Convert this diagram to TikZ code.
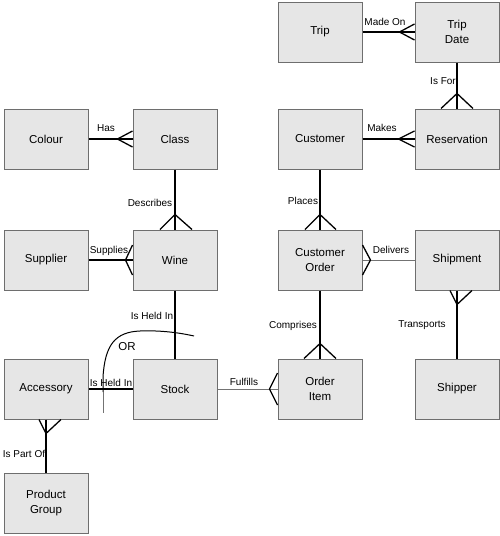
\documentclass[tikz,border=0pt]{standalone}
\usepackage{fontspec}
\setmainfont{Liberation Sans}
\usetikzlibrary{calc}
\definecolor{boxfill}{HTML}{E6E6E6}
\definecolor{boxline}{HTML}{6E6E6E}

\begin{document}
\begin{tikzpicture}[x=1pt,y=-1pt,
  entity/.style={draw=boxline,line width=1pt,fill=boxfill,minimum width=84pt,minimum height=60pt,inner sep=0pt,align=center,font=\fontsize{11.5}{14.5}\selectfont},
  rel/.style={line width=1.3pt},
  weak/.style={line width=0.7pt,black!55},
  lbl/.style={inner sep=0pt,font=\fontsize{10}{12}\selectfont}]
\useasboundingbox (0,0) rectangle (500,536);
% entities
\node[entity] (trip) at (320,32) {Trip};
\node[entity] (tripdate) at (457,32) {Trip\\Date};
\node[entity] (colour) at (46,139) {Colour};
\node[entity] (class) at (175,139) {Class};
\node[entity] (customer) at (320,139) {Customer};
\node[entity] (reservation) at (457,139) {Reservation};
\node[entity] (supplier) at (46,260) {Supplier};
\node[entity] (wine) at (175,260) {Wine};
\node[entity] (custorder) at (320,260) {Customer\\Order};
\node[entity] (shipment) at (457,260) {Shipment};
\node[entity] (accessory) at (46,389) {Accessory};
\node[entity] (stock) at (175,389) {Stock};
\node[entity] (orderitem) at (320,389) {Order\\Item};
\node[entity] (shipper) at (457,389) {Shipper};
\node[entity] (prodgroup) at (46,503) {Product\\Group};
% relationships
\draw[rel] (trip) -- (tripdate);
\draw[rel] (tripdate) -- (reservation);
\draw[rel] (customer) -- (reservation);
\draw[rel] (customer) -- (custorder);
\draw[weak] (custorder) -- (shipment);
\draw[rel] (custorder) -- (orderitem);
\draw[rel] (shipment) -- (shipper);
\draw[weak] (stock) -- (orderitem);
\draw[rel] (wine) -- (stock);
\draw[rel] (accessory) -- (stock);
\draw[rel] (accessory) -- (prodgroup);
\draw[rel] (colour) -- (class);
\draw[rel] (class) -- (wine);
\draw[rel] (supplier) -- (wine);
% crow's feet: anchor / apex / prongs
\foreach \p/\a/\u/\v in {tripdate.west/{-15,0}/{0,-8}/{0,8},
  reservation.north/{0,-15}/{-16,0}/{16,0},
  reservation.west/{-16,0}/{0,-8}/{0,8},
  custorder.north/{0,-15}/{-15,0}/{16,0},
  custorder.east/{8,0}/{0,-15}/{0,15},
  orderitem.north/{0,-15}/{-16,0}/{16,0},
  orderitem.west/{-8,0}/{0,-16}/{0,16},
  shipment.south/{0,14}/{-7,0}/{15,0},
  accessory.south/{0,14}/{-7,0}/{15,0},
  class.west/{-15,0}/{0,-8}/{0,8},
  wine.north/{0,-15}/{-15,0}/{17,0},
  wine.west/{-7,0}/{0,-15}/{0,15}}
  \draw[rel] ($(\p)+(\u)$) -- ($(\p)+(\a)$) -- ($(\p)+(\v)$);
% the OR arc
\coordinate (orfoot) at (103,392);
\draw[line width=1pt] (orfoot) -- (103,377) .. controls (105,345) and (115,332) .. (140,331)
  .. controls (165,330) and (185,334) .. (194,336);
\draw[weak] (orfoot) -- (103,413);
% labels
\node[lbl] (lmadeon) at (385,22) {Made On};
\node[lbl] (lisfor) at (443,81) {Is For};
\node[lbl] (lmakes) at (382,128) {Makes};
\node[lbl] (lhas) at (106,128) {Has};
\node[lbl] (ldescribes) at (150,203) {Describes};
\node[lbl] (lplaces) at (303,201) {Places};
\node[lbl] (lsupplies) at (109,251) {Supplies};
\node[lbl] (ldelivers) at (391,250) {Delivers};
\node[lbl] (lheldwine) at (152,316) {Is Held In};
\node[lbl] (lcomprises) at (293,326) {Comprises};
\node[lbl] (ltransports) at (422,325) {Transports};
\node[lbl] (lheldacc) at (111,383) {Is Held In};
\node[lbl] (lfulfills) at (244,382) {Fulfills};
\node[lbl] (lpartof) at (24,454) {Is Part Of};
\node[lbl,font=\fontsize{11.5}{14}\selectfont] (lor) at (127,347) {OR};
\end{tikzpicture}
\end{document}
